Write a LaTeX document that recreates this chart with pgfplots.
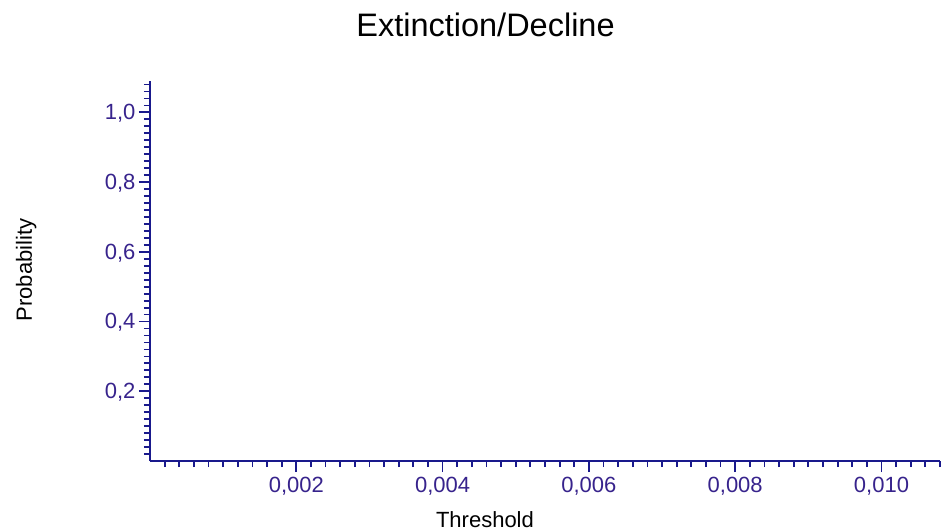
\documentclass[border=0pt]{standalone}
\usepackage{fontspec}
\setmainfont{Liberation Sans}
\usepackage{pgfplots}
\pgfplotsset{compat=1.18}
\definecolor{axisnavy}{RGB}{25,25,140}
\definecolor{ticknavy}{RGB}{55,35,140}
\begin{document}
\begin{tikzpicture}
\path[use as bounding box] (-150pt,-70pt) rectangle (791pt,461pt);
\begin{axis}[
  at={(0pt,0pt)}, anchor=south west,
  scale only axis, width=790pt, height=380pt,
  xmin=0, xmax=0.0108, ymin=0, ymax=1.09,
  axis lines*=left,
  axis line style={color=axisnavy, line width=2pt},
  tick align=outside,
  xtick={0.002,0.004,0.006,0.008,0.010},
  ytick={0.2,0.4,0.6,0.8,1.0},
  minor xtick={0.0002,0.0004,...,0.0108},
  minor ytick={0.02,0.04,...,1.08},
  major tick length=11pt, minor tick length=6pt,
  every tick/.append style={color=axisnavy, line width=1.8pt},
  scaled x ticks=false, scaled y ticks=false,
  xticklabel style={/pgf/number format/.cd, fixed, fixed zerofill, precision=3, use comma, /tikz/.cd, yshift=-2pt},
  yticklabel style={/pgf/number format/.cd, fixed, fixed zerofill, precision=1, use comma, /tikz/.cd, yshift=-1pt},
  /pgf/number format/assume math mode=true,
  tick label style={font=\fontsize{22}{22}\selectfont, text=ticknavy},
  every axis title shift=0pt,
  title={Extinction/Decline},
  title style={font=\fontsize{32.5}{33}\selectfont, at={(axis description cs:0.4247,1.118)}, anchor=base},
  xlabel={Threshold},
  xlabel style={font=\fontsize{22}{22}\selectfont, at={(axis description cs:0.424,-0.174)}, anchor=base},
  ylabel={Probability},
  ylabel style={font=\fontsize{22}{22}\selectfont, at={(axis description cs:-0.1494,0.5026)}, anchor=base, rotate=0},
]
\end{axis}
\end{tikzpicture}
\end{document}
